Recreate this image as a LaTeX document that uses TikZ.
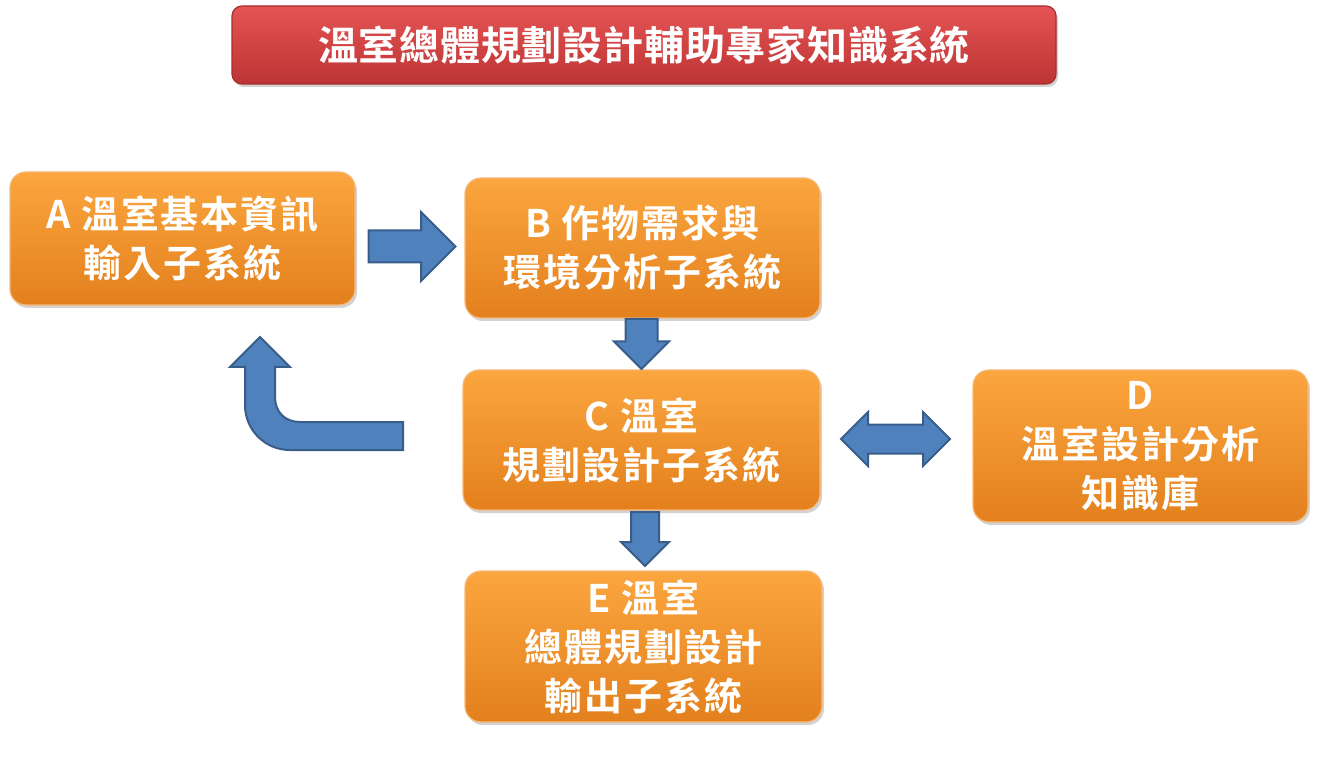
\documentclass[tikz,border=0pt]{standalone}
\usepackage{fontspec}
\newfontfamily\cjk{Noto Sans CJK TC Bold}[LetterSpace=5]
\newfontfamily\cjkttl{Noto Sans CJK TC Bold}[LetterSpace=2]
\usetikzlibrary{shapes.arrows,shadows,positioning}

\definecolor{boxtop}{HTML}{FBA63F}
\definecolor{boxbot}{HTML}{E3801D}
\definecolor{boxline}{HTML}{F5B878}
\definecolor{ttltop}{HTML}{E55454}
\definecolor{ttlbot}{HTML}{BE3434}
\definecolor{ttlline}{HTML}{A52E2E}
\definecolor{arrfill}{HTML}{4F81BD}
\definecolor{arrline}{HTML}{385D8A}

\begin{document}
\begin{tikzpicture}[x=1pt,y=-1pt,
  box/.style={rounded corners=16pt,draw=boxline,line width=1.2pt,top color=boxtop,bottom color=boxbot,
    text=white,align=center,inner sep=0pt,font=\cjk\fontsize{38}{49}\selectfont,
    drop shadow={shadow xshift=2pt,shadow yshift=-3pt,opacity=.35}},
  ttl/.style={box,draw=ttlline,top color=ttltop,bottom color=ttlbot,font=\cjkttl\fontsize{40}{49}\selectfont},
  blk/.style={single arrow,draw=arrline,fill=arrfill,line width=2pt,inner xsep=0pt},
  blkdown/.style={single arrow,draw=arrline,fill=arrfill,line width=2pt,inner ysep=0pt,shape border rotate=270},
  dblk/.style={double arrow,draw=arrline,fill=arrfill,line width=2pt,inner xsep=0pt}]
\useasboundingbox (0,0) rectangle (1318,759);

% title
\node[ttl,minimum width=824pt,minimum height=78pt,rounded corners=10pt] (sys) at (644,45) {溫室總體規劃設計輔助專家知識系統};

% subsystems
\node[box,minimum width=345pt,minimum height=133pt] (A) at (182.5,238.5) {A 溫室基本資訊\\輸入子系統};
\node[box,minimum width=355pt,minimum height=140pt] (B) at (642.5,248) {B 作物需求與\\環境分析子系統};
\node[box,minimum width=357pt,minimum height=140pt] (C) at (641.5,440) {C 溫室\\規劃設計子系統};
\node[box,minimum width=335pt,minimum height=152pt] (D) at (1140.5,446) {D\\溫室設計分析\\知識庫};
\node[box,minimum width=357pt,minimum height=151pt] (E) at (643.5,646.5) {E 溫室\\總體規劃設計\\輸出子系統};

% block arrows
\node[blk,minimum height=87pt,inner ysep=15pt,single arrow head extend=18.5pt] (AB) at (404,246.5) {};
\node[blkdown,minimum height=50pt,inner xsep=15pt,single arrow head extend=11.5pt] (BC) at (641.5,336) {};
\node[blkdown,minimum height=54pt,inner xsep=13pt,single arrow head extend=10pt] (CE) at (645,532) {};
\node[dblk,minimum height=109pt,inner ysep=13.5pt,double arrow head extend=12.5pt] (CD) at (895.5,439) {};

% back to A
\draw[draw=arrline,fill=arrfill,line width=2pt,line join=miter]
  (403,422) -- (300,422) .. controls (285,422) and (275,412) .. (275,397)
  -- (275,367) -- (290,367) -- (260,337) -- (230,367) -- (245,367) -- (245,405)
  .. controls (245,430) and (265,450) .. (290,450) -- (403,450) -- cycle;
\end{tikzpicture}
\end{document}
